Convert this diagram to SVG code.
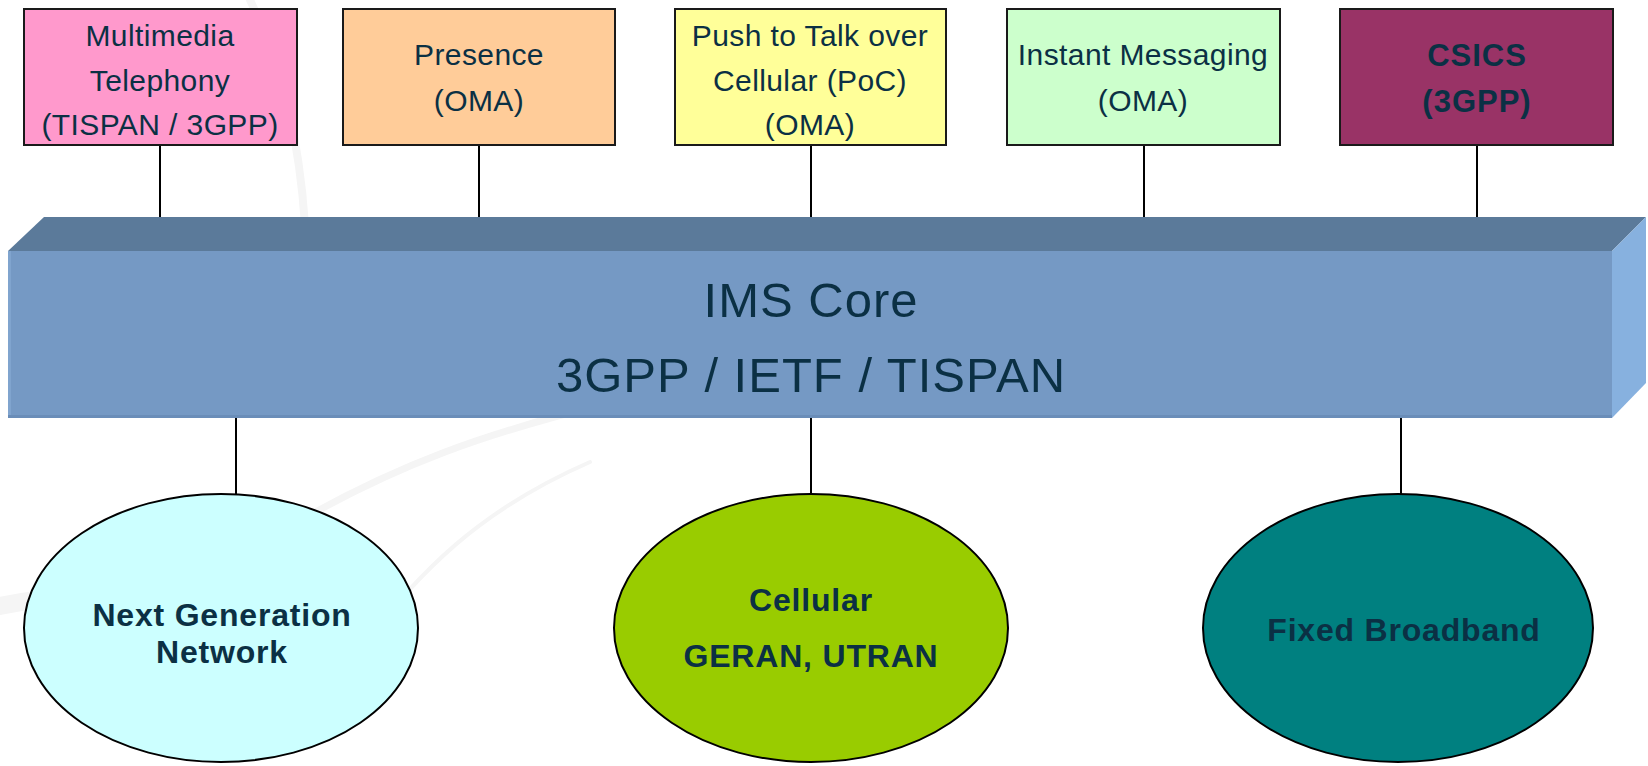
<svg xmlns="http://www.w3.org/2000/svg" width="1648" height="766" viewBox="0 0 1648 766">
  <style>
    .box { stroke: #1a1a1a; stroke-width: 2; }
    .ell { stroke: #000; stroke-width: 2; }
    .t { font-family: "Liberation Sans", Arial, sans-serif; fill: #0B3044; text-anchor: middle; }
    .top { font-size: 30px; letter-spacing: 0.4px; }
    .topb { font-size: 31px; font-weight: bold; letter-spacing: 1px; }
    .core { font-size: 49px; letter-spacing: 1px; }
    .eb { font-size: 32px; font-weight: bold; letter-spacing: 0.8px; }
    .conn line { stroke: #000; stroke-width: 2; }
    .bg { fill: none; stroke: #f5f5f5; stroke-linecap: round; }
  </style>
  <rect width="1648" height="766" fill="#ffffff"/>
  <g id="background">
    <path class="bg" d="M250 0 C 285 70, 300 150, 305 225" stroke-width="8"/>
    <path class="bg" d="M0 606 C 30 600, 60 596, 95 594" stroke-width="18"/>
    <path class="bg" d="M310 515 C 400 465, 480 435, 600 405" stroke-width="7"/>
    <path class="bg" d="M355 655 C 420 570, 480 510, 590 462" stroke-width="4"/>
  </g>

  <g id="connectors" class="conn">
    <line x1="160" y1="145" x2="160" y2="219"/>
    <line x1="479" y1="145" x2="479" y2="219"/>
    <line x1="811" y1="145" x2="811" y2="219"/>
    <line x1="1144" y1="145" x2="1144" y2="219"/>
    <line x1="1477" y1="145" x2="1477" y2="219"/>
    <line x1="236" y1="418" x2="236" y2="495"/>
    <line x1="811" y1="418" x2="811" y2="494"/>
    <line x1="1401" y1="418" x2="1401" y2="494"/>
  </g>

  <g id="ims-core">
    <polygon points="8,251 44,217 1646,217 1612,251" fill="#5B7A9A"/>
    <polygon points="1612,251 1646,217 1646,383 1612,418" fill="#87B1DF"/>
    <rect x="8" y="251" width="1604" height="167" fill="#7599C4"/>
    <rect x="8" y="251" width="3" height="167" fill="#80A4CE"/>
    <rect x="8" y="415" width="1604" height="3" fill="#6A8DB8"/>
    <text class="t core" x="811" y="317">IMS Core</text>
    <text class="t core" x="811" y="392">3GPP / IETF / TISPAN</text>
  </g>

  <g id="multimedia-telephony">
    <rect class="box" x="24" y="9" width="273" height="136" fill="#FF99CC"/>
    <text class="t top" x="160" y="46">Multimedia</text>
    <text class="t top" x="160" y="91">Telephony</text>
    <text class="t top" x="160" y="135">(TISPAN / 3GPP)</text>
  </g>
  <g id="presence">
    <rect class="box" x="343" y="9" width="272" height="136" fill="#FFCC99"/>
    <text class="t top" x="479" y="65">Presence</text>
    <text class="t top" x="479" y="111">(OMA)</text>
  </g>
  <g id="poc">
    <rect class="box" x="675" y="9" width="271" height="136" fill="#FFFF99"/>
    <text class="t top" x="810" y="46">Push to Talk over</text>
    <text class="t top" x="810" y="91">Cellular (PoC)</text>
    <text class="t top" x="810" y="135">(OMA)</text>
  </g>
  <g id="instant-messaging">
    <rect class="box" x="1007" y="9" width="273" height="136" fill="#CCFFCC"/>
    <text class="t top" x="1143" y="65">Instant Messaging</text>
    <text class="t top" x="1143" y="111">(OMA)</text>
  </g>
  <g id="csics">
    <rect class="box" x="1340" y="9" width="273" height="136" fill="#993366"/>
    <text class="t topb" x="1477" y="66">CSICS</text>
    <text class="t topb" x="1477" y="112">(3GPP)</text>
  </g>

  <g id="ngn">
    <ellipse class="ell" cx="221" cy="628" rx="197" ry="134" fill="#CCFFFF"/>
    <text class="t eb" x="222" y="626">Next Generation</text>
    <text class="t eb" x="222" y="663">Network</text>
  </g>
  <g id="cellular">
    <ellipse class="ell" cx="811" cy="628" rx="197" ry="134" fill="#99CC00"/>
    <text class="t eb" x="811" y="611">Cellular</text>
    <text class="t eb" x="811" y="667">GERAN, UTRAN</text>
  </g>
  <g id="fixed-broadband">
    <ellipse class="ell" cx="1398" cy="628" rx="195" ry="134" fill="#008080"/>
    <text class="t eb" x="1404" y="641">Fixed Broadband</text>
  </g>
</svg>
